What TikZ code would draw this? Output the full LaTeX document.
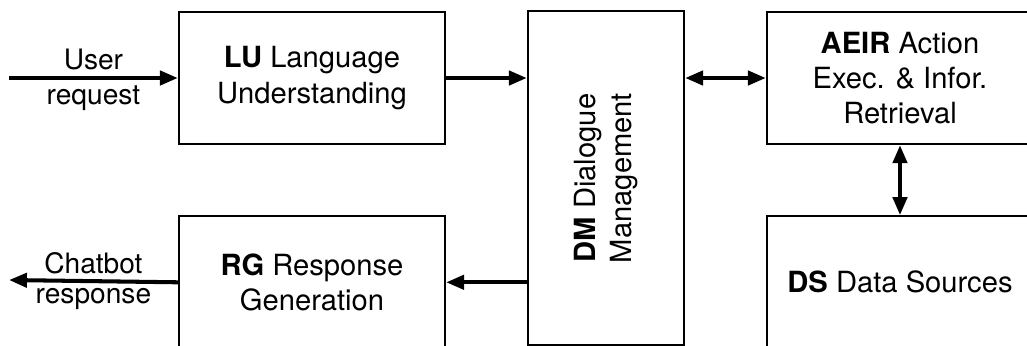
\documentclass[tikz,border=0pt]{standalone}
\usepackage{fontspec}
\setmainfont{TeX Gyre Heros}
\usetikzlibrary{arrows.meta,positioning}

\begin{document}
\begin{tikzpicture}[line join=miter,>={Triangle[length=5.1pt,width=4pt]},x=1.0cm,y=1.0cm]
        \tikzset{module/.style={draw,line width=0.65pt,minimum width=2.66cm,minimum height=1.32cm,inner sep=0pt,align=center,font=\fontsize{8.3}{10}\selectfont},
                 flow/.style={line width=1.15pt},
                 tag/.style={inner sep=1.6pt,font=\fontsize{8}{9}\selectfont}}
        \useasboundingbox (0,0) rectangle (10.27,3.45);
        \clip (0,0) rectangle (10.27,3.45);
        % modules
        \node[module] (lu) at (3.12,2.67) {\textbf{LU} Language\\Understanding};
        \node[module,below=0.70cm of lu] (rg) {\textbf{RG} Response\\Generation};
        \node[module,minimum width=1.56cm,minimum height=3.34cm] (dm) at (6.06,1.67) {};
        \node[rotate=90,align=center,font=\fontsize{8.3}{10}\selectfont] (dmtext) at (dm.center) {\textbf{DM} Dialogue\\Management};
        \node[module] (aeir) at (9.00,2.67) {\textbf{AEIR} Action\\Exec. \& Infor.\\Retrieval};
        \node[module,below=0.70cm of aeir] (ds) {\textbf{DS} Data Sources};
        % free ends
        \coordinate (usr) at (0.09,2.67);
        \coordinate (bot) at (0.09,0.65);
        % connectors
        \draw[flow,->] (usr) -- node[tag,above] {User} node[tag,below] {request} (lu.west);
        \draw[flow,->] (lu.east) -- (lu.east -| dm.west);
        \draw[flow,<->] (aeir.west -| dm.east) -- (aeir.west);
        \draw[flow,<->] (aeir.south) -- (ds.north);
        \draw[flow,->] (rg.east -| dm.west) -- (rg.east);
        \draw[flow,->] (rg.west) -- node[tag,above] {Chatbot} node[tag,below] {response} (bot);
\end{tikzpicture}
\end{document}
